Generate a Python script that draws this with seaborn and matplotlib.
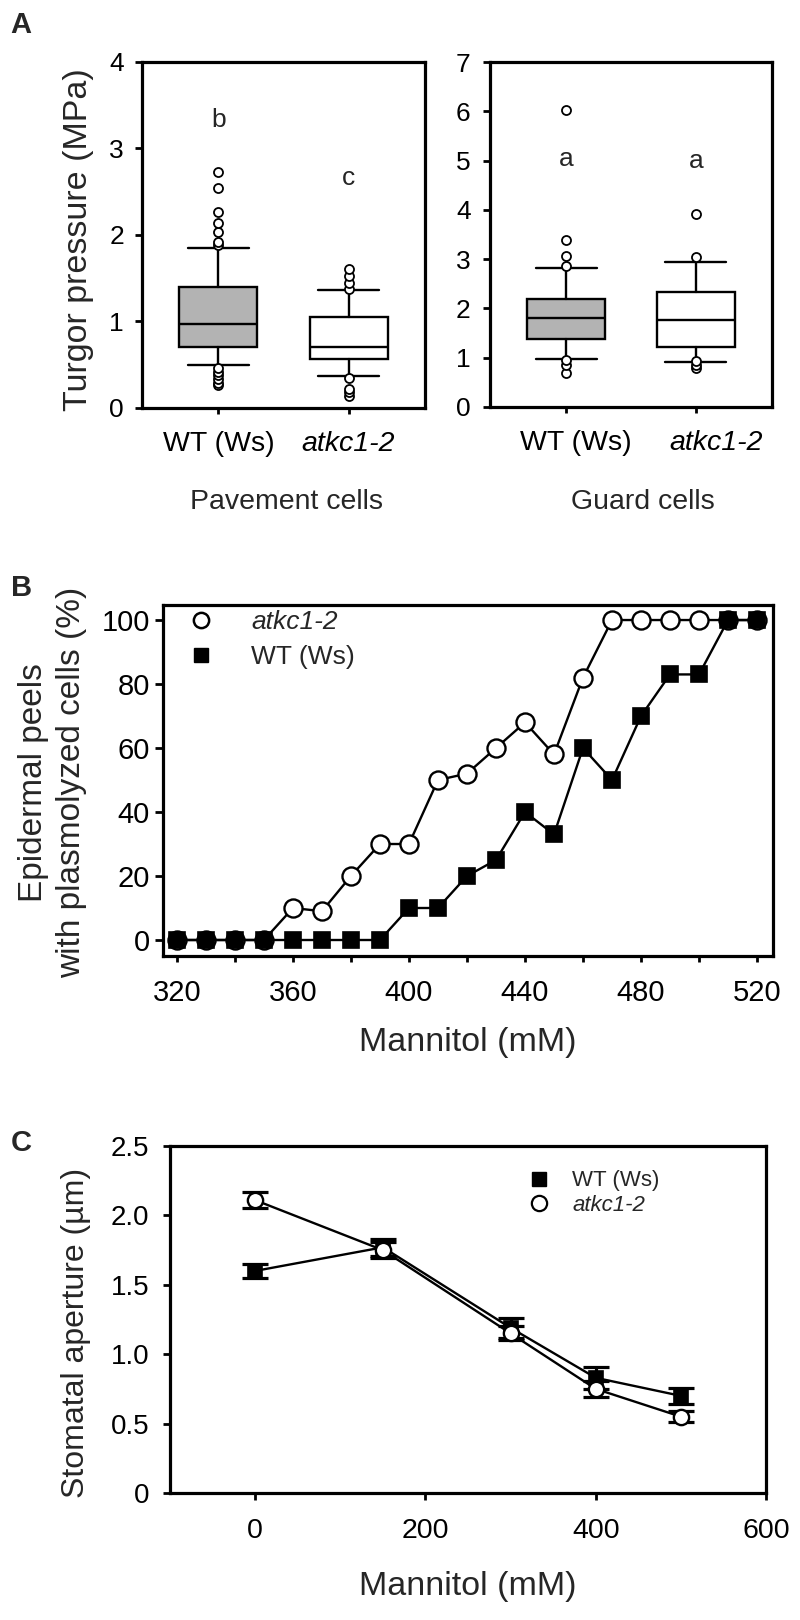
import numpy as np
import matplotlib
matplotlib.use("Agg")
import matplotlib.pyplot as plt
import matplotlib.transforms as mtransforms
from matplotlib.lines import Line2D
import seaborn as sns

# ---- panel A: box statistics (MPa)
genotypes = ["WT (Ws)", "atkc1-2"]
box_colors = ["#b3b3b3", "white"]

pav_q1 = [0.71, 0.57]
pav_med = [0.97, 0.71]
pav_q3 = [1.40, 1.05]
pav_lo = [0.50, 0.37]
pav_hi = [1.85, 1.36]
pav_fliers = [[0.27, 0.29, 0.33, 0.38, 0.42, 0.46, 1.88, 1.92, 2.04, 2.14, 2.27, 2.54, 2.73],
              [0.14, 0.18, 0.22, 0.35, 1.38, 1.45, 1.53, 1.61]]
pav_letters = ["b", "c"]
pav_letter_y = [3.33, 2.66]

grd_q1 = [1.38, 1.22]
grd_med = [1.80, 1.76]
grd_q3 = [2.19, 2.33]
grd_lo = [0.97, 0.91]
grd_hi = [2.82, 2.94]
grd_fliers = [[0.70, 0.86, 0.96, 2.87, 3.07, 3.39, 6.02],
              [0.79, 0.86, 0.93, 3.05, 3.91]]
grd_letters = ["a", "a"]
grd_letter_y = [5.04, 4.99]

# ---- panel B: % peels with plasmolyzed cells
mannitol_b = [320, 330, 340, 350, 360, 370, 380, 390, 400, 410, 420,
              430, 440, 450, 460, 470, 480, 490, 500, 510, 520]
plasmo_atkc = [0, 0, 0, 0, 10, 9, 20, 30, 30, 50, 52,
               60, 68, 58, 82, 100, 100, 100, 100, 100, 100]
plasmo_wt = [0, 0, 0, 0, 0, 0, 0, 0, 10, 10, 20,
             25, 40, 33, 60, 50, 70, 83, 83, 100, 100]

# ---- panel C: stomatal aperture (um)
mannitol_c = [0, 150, 300, 400, 500]
aperture_wt = [1.60, 1.77, 1.19, 0.83, 0.70]
aperture_wt_err = [0.05, 0.06, 0.07, 0.08, 0.06]
aperture_atkc = [2.11, 1.75, 1.15, 0.75, 0.55]
aperture_atkc_err = [0.055, 0.06, 0.05, 0.06, 0.04]

sns.set_theme(style="ticks")
plt.rcParams['font.family'] = ['Liberation Sans', 'DejaVu Sans']
plt.rcParams['axes.linewidth'] = 2.3
plt.rcParams['axes.edgecolor'] = 'black'

W, H = 800, 1620
fig = plt.figure(figsize=(8, 16.2), dpi=100)


def rect(x0, y0, x1, y1):
    return [x0 / W, 1 - y1 / H, (x1 - x0) / W, (y1 - y0) / H]


def fx(px):
    return px / W


def fy(py):
    return 1 - py / H


def boxpanel(ax, q1, med, q3, lo, hi, fliers, letters, letter_y, ymax, pad):
    stats = []
    for i in range(2):
        stats.append(dict(med=med[i], q1=q1[i], q3=q3[i], whislo=lo[i],
                          whishi=hi[i], fliers=fliers[i]))
    bp = ax.bxp(stats, positions=[0, 1], widths=0.6, capwidths=0.47,
                patch_artist=True,
                boxprops=dict(edgecolor='black', linewidth=1.7),
                medianprops=dict(color='black', linewidth=1.7),
                whiskerprops=dict(color='black', linewidth=1.7),
                capprops=dict(color='black', linewidth=1.7),
                flierprops=dict(marker='o', markersize=6.5, markerfacecolor='white',
                                markeredgecolor='black', markeredgewidth=1.3))
    for patch, c in zip(bp['boxes'], box_colors):
        patch.set_facecolor(c)
    for i in range(2):
        ax.text(i, letter_y[i], letters[i], ha='center', va='center', fontsize=19)
    ax.set_xlim(-0.587, 1.587)
    ax.set_ylim(0, ymax)
    ax.set_yticks(range(0, ymax + 1))
    ax.set_xticks([0, 1])
    ax.set_xticklabels(genotypes)
    ax.get_xticklabels()[1].set_fontstyle('italic')
    ax.tick_params(axis='y', direction='out', length=5, width=2, labelsize=19,
                   pad=pad, colors='black')
    ax.tick_params(axis='x', direction='out', length=4.5, width=2, labelsize=20.5,
                   pad=12, colors='black')


# ---------------- panel A
axA1 = fig.add_axes(rect(142, 62, 425, 408))
boxpanel(axA1, pav_q1, pav_med, pav_q3, pav_lo, pav_hi, pav_fliers,
         pav_letters, pav_letter_y, 4, 8)
axA2 = fig.add_axes(rect(490, 62, 772, 407))
boxpanel(axA2, grd_q1, grd_med, grd_q3, grd_lo, grd_hi, grd_fliers,
         grd_letters, grd_letter_y, 7, 9)
# guard-cell tick labels sit a little right of their ticks in the original
for lbl, dx in zip(axA2.get_xticklabels(), [10, 20]):
    lbl.set_transform(lbl.get_transform() +
                      mtransforms.ScaledTranslation(dx / 100, 0, fig.dpi_scale_trans))

fig.text(fx(79), fy(240), "Turgor pressure (MPa)", rotation=90,
         ha='center', va='center', fontsize=24.5)
fig.text(fx(287), fy(502), "Pavement cells", ha='center', va='center', fontsize=20.5)
fig.text(fx(643), fy(502), "Guard cells", ha='center', va='center', fontsize=20.5)

# ---------------- panel B
axB = fig.add_axes(rect(163, 605, 773, 956))
sns.lineplot(x=mannitol_b, y=plasmo_atkc, ax=axB, color='black', linewidth=1.7,
             marker='o', markersize=13, markerfacecolor='white',
             markeredgecolor='black', markeredgewidth=1.7, zorder=3)
sns.lineplot(x=mannitol_b, y=plasmo_wt, ax=axB, color='black', linewidth=1.7,
             marker='s', markersize=11.5, markerfacecolor='black',
             markeredgecolor='black', markeredgewidth=1.2, zorder=4)
axB.set_xlim(315.2, 525.5)
axB.set_ylim(-5, 104.7)
axB.set_xticks(range(320, 521, 20))
axB.set_xticklabels([str(v) if v % 40 == 0 else "" for v in range(320, 521, 20)])
axB.set_yticks(range(0, 101, 20))
axB.tick_params(axis='y', direction='out', length=6, width=2, labelsize=21,
                pad=3.5, colors='black')
axB.tick_params(axis='x', direction='out', length=4.5, width=2, labelsize=21,
                pad=12, colors='black')
hB = [Line2D([], [], linestyle='none', marker='o', markersize=11,
             markerfacecolor='white', markeredgecolor='black', markeredgewidth=1.8),
      Line2D([], [], linestyle='none', marker='s', markersize=10,
             markerfacecolor='black', markeredgecolor='black')]
legB = axB.legend(hB, ["atkc1-2", "WT (Ws)"], loc='upper left',
                  bbox_to_anchor=(0.045, 0.985), frameon=False, fontsize=19,
                  handlelength=0.8, handletextpad=1.5, labelspacing=0.4,
                  borderaxespad=0, borderpad=0)
legB.get_texts()[0].set_fontstyle('italic')
# two-line y label, one text per line
fig.text(fx(34), fy(783), "Epidermal peels", rotation=90,
         ha='center', va='center', fontsize=24)
fig.text(fx(72), fy(782), "with plasmolyzed cells (%)", rotation=90,
         ha='center', va='center', fontsize=24)
fig.text(fx(468), fy(1043), "Mannitol (mM)", ha='center', va='center', fontsize=24.5)

# ---------------- panel C
axC = fig.add_axes(rect(170, 1146, 766, 1493))
axC.errorbar(mannitol_c, aperture_wt, yerr=aperture_wt_err, fmt='none',
             ecolor='black', elinewidth=2.3, capsize=9.5, capthick=2.3, zorder=3)
sns.lineplot(x=mannitol_c, y=aperture_wt, ax=axC, color='black', linewidth=1.7,
             marker='s', markersize=10, markerfacecolor='black',
             markeredgecolor='black', markeredgewidth=1.2, zorder=4)
axC.errorbar(mannitol_c, aperture_atkc, yerr=aperture_atkc_err, fmt='none',
             ecolor='black', elinewidth=2.3, capsize=9.5, capthick=2.3, zorder=5)
sns.lineplot(x=mannitol_c, y=aperture_atkc, ax=axC, color='black', linewidth=1.7,
             marker='o', markersize=11, markerfacecolor='white',
             markeredgecolor='black', markeredgewidth=1.7, zorder=6)
axC.set_xlim(-100, 600)
axC.set_ylim(0, 2.5)
axC.set_xticks([0, 200, 400, 600])
axC.set_yticks([0, 0.5, 1.0, 1.5, 2.0, 2.5])
axC.set_yticklabels(["0", "0.5", "1.0", "1.5", "2.0", "2.5"])
axC.tick_params(axis='y', direction='out', length=5, width=2, labelsize=20,
                pad=10, colors='black')
axC.tick_params(axis='x', direction='out', length=5, width=2, labelsize=20.5,
                pad=13, colors='black')
hC = [Line2D([], [], linestyle='none', marker='s', markersize=10,
             markerfacecolor='black', markeredgecolor='black'),
      Line2D([], [], linestyle='none', marker='o', markersize=11,
             markerfacecolor='white', markeredgecolor='black', markeredgewidth=1.6)]
legC = axC.legend(hC, ["WT (Ws)", "atkc1-2"], loc='upper left',
                  bbox_to_anchor=(0.6, 0.93), frameon=False, fontsize=16,
                  handlelength=1.0, handletextpad=1.0, labelspacing=0.15,
                  borderaxespad=0, borderpad=0)
legC.get_texts()[1].set_fontstyle('italic')
fig.text(fx(76), fy(1333), "Stomatal aperture (\u00b5m)", rotation=90,
         ha='center', va='center', fontsize=23)
fig.text(fx(468), fy(1587), "Mannitol (mM)", ha='center', va='center', fontsize=24.5)

# panel letters
fig.text(fx(10), fy(25), "A", ha='left', va='center', fontsize=21, fontweight='bold')
fig.text(fx(11), fy(588), "B", ha='left', va='center', fontsize=21, fontweight='bold')
fig.text(fx(11), fy(1143), "C", ha='left', va='center', fontsize=21, fontweight='bold')

fig.savefig("out.png", dpi=100, facecolor='white')
